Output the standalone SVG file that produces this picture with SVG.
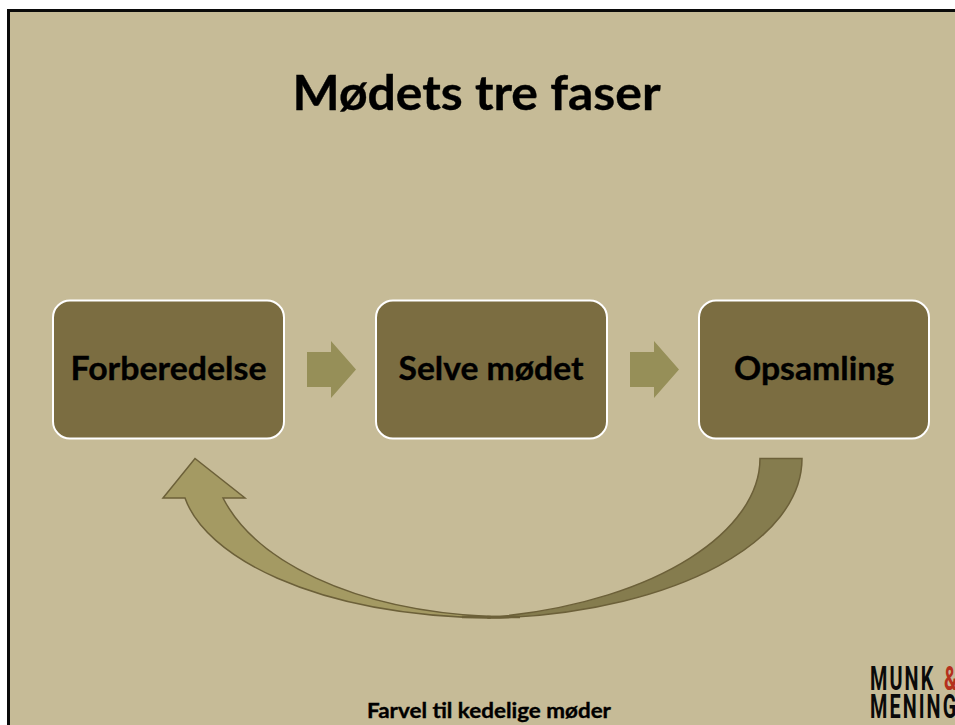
<svg xmlns="http://www.w3.org/2000/svg" width="955" height="725" viewBox="0 0 955 725">
<style>
.bg{fill:#c6bb97;stroke:#0b0b0b;stroke-width:3}
.box{fill:#7b6d41;stroke:#fff;stroke-width:2}
.t{font-family:Lato,"Liberation Sans",sans-serif;font-weight:700;fill:#000;text-anchor:middle;stroke:#000;stroke-width:.35}
.lbl{font-size:32px}
.step{fill:#968f58}
.logo{font-family:Roboto,"Liberation Sans",sans-serif;font-weight:700;font-size:33px;fill:#0a0a0a;letter-spacing:3.500px}
.edge{stroke:#6c6039;stroke-width:1.500}
</style>
<rect width="955" height="725" fill="#fff"/>
<rect class="bg" x="8.5" y="10.5" width="960" height="730"/>
<text class="t" x="476.500" y="110" font-size="48" textLength="368" lengthAdjust="spacingAndGlyphs">Mødets tre faser</text>
<g id="connectors">
<path id="step1" class="step" d="M307 352H331V341L356 369.500L331 398V387H307Z"/>
<path id="step2" class="step" d="M630 352H654V341L679 369.500L654 398V387H630Z"/>
<path id="return-right" class="edge" d="M760 458.500H802C802 540 680 610 500 618H488V616.500H500C660 600 760 530 760 458.500Z" fill="#857c4e"/>
<path id="return-left" class="edge" d="M490 618C310 615 205 555 185 498H163L195 458.500L245 498H223C255 560 350 610 490 616.500Z" fill="#a49a63"/>
<path id="return-tail" d="M462 617H520" fill="none" stroke="#6c6039" stroke-width="2.500"/>
</g>
<g id="node-forberedelse">
<rect class="box" x="53" y="300.500" width="231" height="138" rx="17"/>
<text class="t lbl" x="168.500" y="380" textLength="196" lengthAdjust="spacingAndGlyphs">Forberedelse</text>
</g>
<g id="node-selve-modet">
<rect class="box" x="376" y="300.500" width="231" height="138" rx="17"/>
<text class="t lbl" x="491" y="380" textLength="185" lengthAdjust="spacingAndGlyphs">Selve mødet</text>
</g>
<g id="node-opsamling">
<rect class="box" x="699" y="300.500" width="230" height="138" rx="17"/>
<text class="t lbl" x="814" y="380" textLength="160" lengthAdjust="spacingAndGlyphs">Opsamling</text>
</g>
<text class="t" x="489" y="718" font-size="20" textLength="244" lengthAdjust="spacingAndGlyphs">Farvel til kedelige møder</text>
<g id="logo">
<text class="logo" transform="translate(870 690) scale(.6 1)">MUNK</text>
<text class="logo" transform="translate(944 690) scale(.6 1)" style="fill:#b5301c">&amp;</text>
<text class="logo" transform="translate(870 718) scale(.6 1)">MENING</text>
</g>
</svg>
